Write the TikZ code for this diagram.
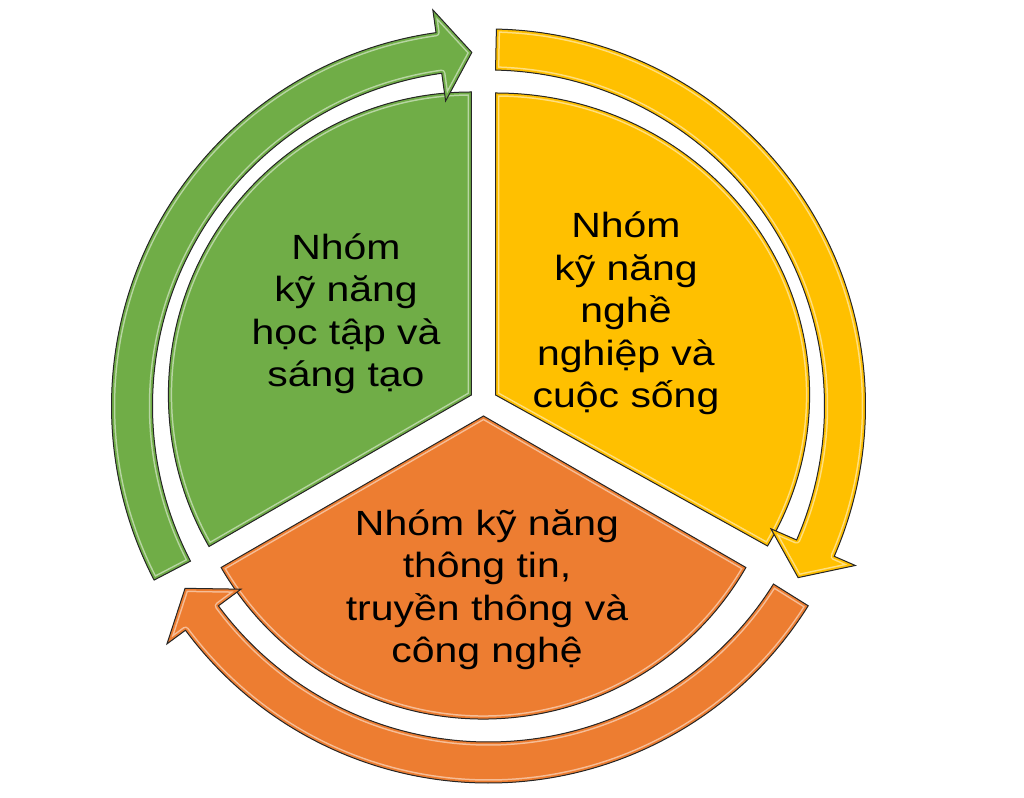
\documentclass[tikz,border=0pt]{standalone}
\usepackage{fontspec}
\setmainfont{Liberation Sans}
\newfontfamily\vnfont[FakeStretch=1.17]{Liberation Sans}
\definecolor{cgreen}{HTML}{70AD47}
\definecolor{cyellow}{HTML}{FFC000}
\definecolor{corange}{HTML}{ED7D31}
\definecolor{edgecol}{HTML}{262626}
% bevelled shape: #1 colour, #2 path
\newcommand{\bevelshape}[2]{%
  \begin{scope}
    \clip #2;
    \fill[#1] #2;
    \draw[#1!50!white, line width=7.5pt, line join=round] #2;
    \draw[#1, line width=4.5pt, line join=round] #2;
  \end{scope}
  \draw[edgecol, line width=1pt, line join=miter] #2;
}
% ring arrow: #1 colour, #2 tail angle, #3 head base angle, #4 tip angle
\newcommand{\ringarrow}[4]{%
  \bevelshape{#1}{(#2:377pt) arc[start angle=#2, end angle=#3, radius=377pt]
    -- (#3:400pt) -- (#4:354pt) -- (#3:308pt) -- (#3:336pt)
    arc[start angle=#3, end angle=#2, radius=336pt] -- cycle}%
}
\begin{document}
\begin{tikzpicture}[x=1pt, y=1pt,
  txt/.style={font=\vnfont\fontsize{35}{42.6}\selectfont, align=center,
    anchor=base, inner sep=0pt, text=black}]
\fill[white] (0,0) rectangle (1024,797);
\useasboundingbox (0,0) rectangle (1024,797);

% pie segments
\bevelshape{cgreen}{(471.4,402) -- ++(90:303pt)
  arc[start angle=90, end angle=210, radius=303pt] -- cycle}
\bevelshape{cyellow}{(495.6,402) -- ++(90:302pt)
  arc[start angle=90, end angle=-30, x radius=314pt, y radius=302pt] -- cycle}
\bevelshape{corange}{(483.5,381) -- ++(-30:303pt)
  arc[start angle=-30, end angle=-150, radius=303pt] -- cycle}

% circular arrows
\begin{scope}[shift={(488.5,391)}]
  \ringarrow{cgreen}{207.5}{98}{92.7}
  \ringarrow{cyellow}{88.8}{-23.5}{-29}
  \ringarrow{corange}{-32}{-143.5}{-149}
\end{scope}

% texts (anchor = baseline of the last line)
\node[txt] (tgreen) at (346,410) {Nhóm\\kỹ năng\\học tập và\\sáng tạo};
\node[txt] (tyellow) at (626,389) {Nhóm\\kỹ năng\\nghề\\nghiệp và\\cuộc sống};
\node[txt] (torange) at (487,134) {Nhóm kỹ năng\\thông tin,\\truyền thông và\\công nghệ};
\end{tikzpicture}
\end{document}
